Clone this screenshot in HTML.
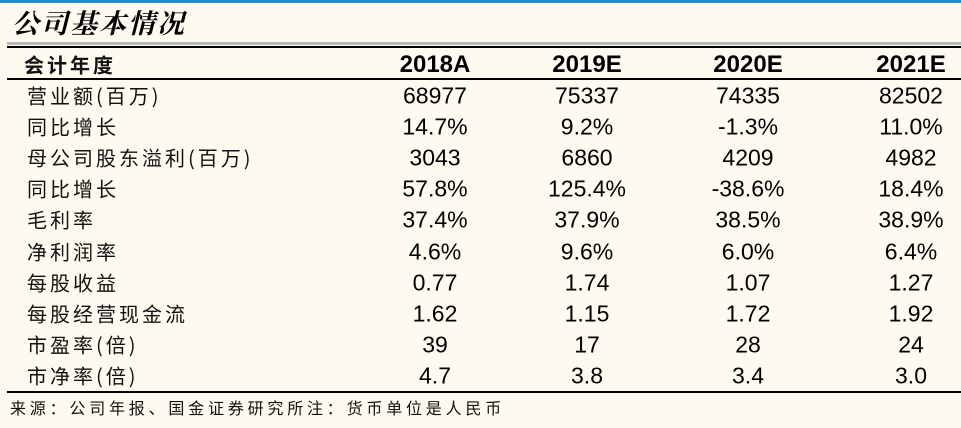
<!DOCTYPE html>
<html><head><meta charset="utf-8"><style>
body{margin:0;width:961px;height:428px;background:#fffaf0;position:relative;overflow:hidden;font-family:"Liberation Sans","Noto Sans CJK SC",sans-serif;}
.a{position:absolute;white-space:nowrap;}
.lbl{left:27px;font-size:20px;letter-spacing:3px;font-family:"Noto Sans CJK SC","WenQuanYi Zen Hei",sans-serif;color:#111;transform:translateY(-50%);}
.v{font-size:23px;color:#000;transform:translate(-50%,-50%);}
.h{font-weight:bold;font-size:24px;}
</style></head><body>
<div class="a" style="left:0;top:0;width:961px;height:3px;background:#1a8fd6"></div>
<div class="a" style="left:12px;top:2px;font-size:27px;letter-spacing:2px;font-style:italic;font-weight:bold;font-family:'Noto Serif CJK SC','Noto Sans CJK SC',serif;">公司基本情况</div>
<div class="a" style="left:7px;top:42px;width:954px;height:3px;background:#b8b8b8"></div>
<div class="a" style="left:7px;top:46px;width:954px;height:2px;background:#000"></div>
<div class="a" style="left:7px;top:78px;width:954px;height:2px;background:#000"></div>
<div class="a" style="left:7px;top:391px;width:954px;height:2px;background:#000"></div>
<div class="a lbl" style="top:64px;font-weight:bold;left:24px">会计年度</div>
<div id="t"></div>
<div class="a" style="left:10px;top:395px;font-size:16px;letter-spacing:3.8px;font-family:'Noto Sans CJK SC',sans-serif;color:#111">来源：公司年报、国金证券研究所注：货币单位是人民币</div>
<script>
const years=["2018A","2019E","2020E","2021E"];
const labels=["营业额(百万)","同比增长","母公司股东溢利(百万)","同比增长","毛利率","净利润率","每股收益","每股经营现金流","市盈率(倍)","市净率(倍)"];
const values=[["68977","75337","74335","82502"],["14.7%","9.2%","-1.3%","11.0%"],["3043","6860","4209","4982"],["57.8%","125.4%","-38.6%","18.4%"],["37.4%","37.9%","38.5%","38.9%"],["4.6%","9.6%","6.0%","6.4%"],["0.77","1.74","1.07","1.27"],["1.62","1.15","1.72","1.92"],["39","17","28","24"],["4.7","3.8","3.4","3.0"]];
const colX=[435,587,748,911];
const t=document.getElementById('t');
years.forEach((y,j)=>{const d=document.createElement('div');d.className='a v h';d.style.left=colX[j]+'px';d.style.top='65px';d.textContent=y;


t.appendChild(d);});
labels.forEach((l,i)=>{const top=95+i*31.1;
const d=document.createElement('div');d.className='a lbl';d.style.top=top+'px';d.textContent=l;


t.appendChild(d);
values[i].forEach((v,j)=>{const c=document.createElement('div');c.className='a v';c.style.left=colX[j]+'px';c.style.top=(top+1)+'px';c.textContent=v;


t.appendChild(c);});});
</script>
</body></html>
